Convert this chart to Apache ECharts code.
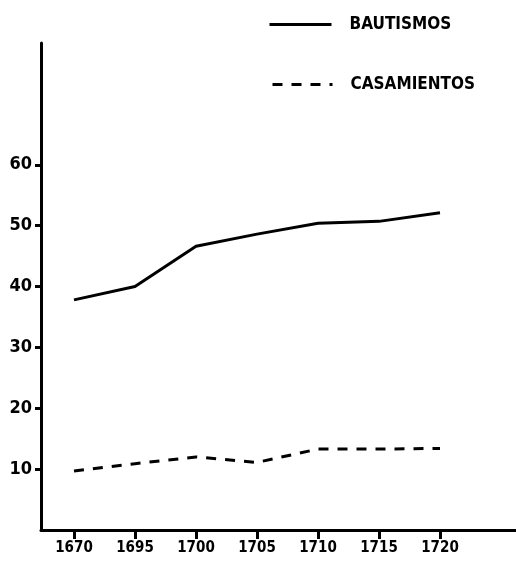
<!DOCTYPE html>
<html>
<head>
<meta charset="utf-8">
<script src="https://cdn.jsdelivr.net/npm/echarts@6/dist/echarts.min.js"></script>
<style>html,body{margin:0;padding:0;background:#fff}#c{width:516px;height:562px}</style>
</head>
<body>
<div id="c"></div>
<script>
const years = ['1670', '1695', '1700', '1705', '1710', '1715', '1720'];
const bautismos = [37.8, 40.0, 46.6, 48.6, 50.4, 50.7, 52.1];
const casamientos = [9.7, 10.9, 12.0, 11.1, 13.3, 13.3, 13.4];
const yTicks = [10, 20, 30, 40, 50, 60];

const FONT = '"Liberation Sans Narrow", "DejaVu Sans Condensed", "Liberation Sans", sans-serif';
const legendText = { fontFamily: FONT, fontWeight: 'bold', fontSize: 17, color: '#000', padding: [0, 0, 0, 13] };
const chart = echarts.init(document.getElementById('c'));
chart.setOption({
  backgroundColor: '#fff',
  animation: false,
  legend: [
    { data: ['BAUTISMOS'], left: 263, top: 11, itemWidth: 62, itemHeight: 12,
      itemStyle: { opacity: 0 }, lineStyle: { width: 3 }, textStyle: legendText },
    { data: ['CASAMIENTOS'], left: 266, top: 71, itemWidth: 60, itemHeight: 12,
      itemStyle: { opacity: 0 }, lineStyle: { width: 3 }, textStyle: legendText }
  ],
  grid: [
    { left: 41, right: 0, top: 43, bottom: 32 },
    { left: 74, right: 76, top: 43, bottom: 32 }
  ],
  xAxis: [
    { type: 'value', gridIndex: 0, min: 0, max: 1,
      axisLine: { show: true, lineStyle: { color: '#000', width: 3 } },
      axisTick: { show: false }, axisLabel: { show: false }, splitLine: { show: false } },
    { type: 'category', gridIndex: 1, data: years, boundaryGap: false,
      axisLine: { show: false },
      axisTick: { show: true, length: 9, lineStyle: { color: '#000', width: 3 } },
      axisLabel: { margin: 11, fontFamily: FONT, fontWeight: 'bold', fontSize: 15, color: '#000' },
      splitLine: { show: false } }
  ],
  yAxis: [
    { type: 'value', gridIndex: 0, min: 0, max: 80, interval: 10,
      axisLine: { show: true, lineStyle: { color: '#000', width: 3 } },
      axisTick: { show: true, length: 6, customValues: yTicks, lineStyle: { color: '#000', width: 3 } },
      axisLabel: { margin: 9, customValues: yTicks, fontFamily: FONT, fontWeight: 'bold', fontSize: 18, color: '#000' },
      splitLine: { show: false } },
    { type: 'value', gridIndex: 1, min: 0, max: 80, show: false, splitLine: { show: false } }
  ],
  series: [
    { name: 'BAUTISMOS', type: 'line', xAxisIndex: 1, yAxisIndex: 1, data: bautismos,
      symbol: 'none', color: '#000', lineStyle: { color: '#000', width: 3, type: 'solid' } },
    { name: 'CASAMIENTOS', type: 'line', xAxisIndex: 1, yAxisIndex: 1, data: casamientos,
      symbol: 'none', color: '#000', lineStyle: { color: '#000', width: 3, type: [10, 9] } }
  ]
});
</script>
</body>
</html>
